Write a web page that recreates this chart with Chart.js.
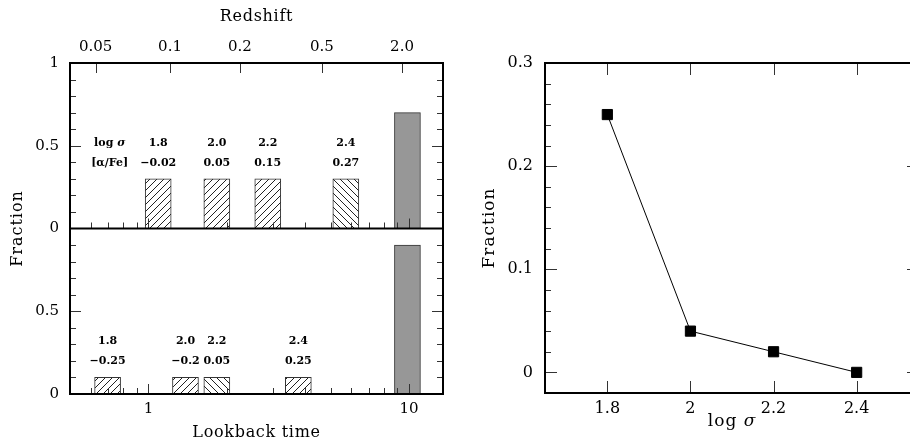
<!DOCTYPE html>
<html>
<head>
<meta charset="utf-8">
<script src="https://cdn.jsdelivr.net/npm/chart.js@4.4.1/dist/chart.umd.min.js"></script>
<style>
  html, body { margin: 0; padding: 0; background: #fff; overflow: hidden; }
  #wrap { position: relative; width: 910px; height: 445px; overflow: hidden; }
  canvas { position: absolute; top: 0; }
  #left { left: 0; }
  #right { left: 460px; }
</style>
</head>
<body>
<div id="wrap">
  <canvas id="left" width="460" height="445"></canvas>
  <canvas id="right" width="470" height="445"></canvas>
</div>
<script>
// upper histogram (lookback time in Gyr)
const topTimes = [1.09, 1.83, 2.87, 5.72, 9.86];
const topFraction = [0.3, 0.3, 0.3, 0.3, 0.7];
const topSigma = ['1.8', '2.0', '2.2', '2.4'];
const topAlpha = ['\u22120.02', '0.05', '0.15', '0.27'];

// lower histogram
const botTimes = [0.697, 1.387, 1.83, 3.76, 9.86];
const botFraction = [0.1, 0.1, 0.1, 0.1, 0.9];
const botSigma = ['1.8', '2.0', '2.2', '2.4'];
const botAlpha = ['\u22120.25', '\u22120.2', '0.05', '0.25'];

// top axis: redshift at lookback time
const redshiftLabels = ['0.05', '0.1', '0.2', '0.5', '2.0'];
const redshiftTimes = [0.627, 1.21, 2.245, 4.63, 9.40];

// right panel
const logSigma = [1.8, 2.0, 2.2, 2.4];
const sigmaFraction = [0.25, 0.04, 0.02, 0.0];

const topFill = ['fwd', 'fwd', 'fwd', 'back', 'solid'];
const botFill = ['fwd', 'fwd', 'back', 'fwd', 'solid'];

const SERIF = '"DejaVu Serif", serif';

function makeHatch(ctx, dir) {
  const s = 7;
  const c = document.createElement('canvas');
  c.width = s; c.height = s;
  const g = c.getContext('2d');
  g.fillStyle = '#fff';
  g.fillRect(0, 0, s, s);
  g.strokeStyle = '#222';
  g.lineWidth = 1;
  g.beginPath();
  if (dir > 0) {
    g.moveTo(-1, s + 1); g.lineTo(s + 1, -1);
  } else {
    g.moveTo(-1, -1); g.lineTo(s + 1, s + 1);
  }
  g.stroke();
  return ctx.createPattern(c, 'repeat');
}

function fills(ctx, kinds) {
  const fwd = makeHatch(ctx, 1), back = makeHatch(ctx, -1);
  return kinds.map(k => k === 'fwd' ? fwd : k === 'back' ? back : '#979797');
}

function hline(ctx, x1, x2, y) {
  const py = Math.round(y) + 0.5;
  ctx.moveTo(x1, py); ctx.lineTo(x2, py);
}
function vline(ctx, x, y1, y2) {
  const px = Math.round(x) + 0.5;
  ctx.moveTo(px, y1); ctx.lineTo(px, y2);
}

function logSigmaText(ctx, cx, cy, font, italic) {
  const a = 'log ', b = '\u03c3';
  ctx.font = font;
  const wa = ctx.measureText(a).width;
  ctx.font = italic;
  const wb = ctx.measureText(b).width;
  const x0 = cx - (wa + wb) / 2;
  ctx.textAlign = 'left';
  ctx.font = font;
  ctx.fillText(a, x0, cy);
  ctx.font = italic;
  ctx.fillText(b, x0 + wa, cy);
}

const leftDecor = {
  id: 'leftDecor',
  afterDraw(chart) {
    const { ctx, chartArea: a } = chart;
    const x = chart.scales.x, yT = chart.scales.yTop, yB = chart.scales.yBot;
    const mid = yT.getPixelForValue(0);
    ctx.save();
    ctx.strokeStyle = '#333';
    ctx.lineWidth = 1;
    ctx.beginPath();
    [yT, yB].forEach(s => {
      for (let i = 1; i < 10; i++) {
        const py = s.getPixelForValue(i / 10);
        const len = i % 5 === 0 ? 11 : 6;
        hline(ctx, a.left, a.left + len, py);
        hline(ctx, a.right, a.right - len, py);
      }
    });
    const xt = [0.6, 0.7, 0.8, 0.9, 1, 2, 3, 4, 5, 6, 7, 8, 9, 10];
    xt.forEach(v => {
      const px = x.getPixelForValue(v);
      const len = (v === 1 || v === 10) ? 10 : 6;
      vline(ctx, px, a.bottom, a.bottom - len);
      vline(ctx, px, mid, mid - len);
    });
    redshiftTimes.forEach(v => {
      vline(ctx, x.getPixelForValue(v), a.top, a.top + 10);
    });
    ctx.stroke();

    ctx.strokeStyle = '#000';
    ctx.lineWidth = 2;
    ctx.strokeRect(a.left, a.top, a.right - a.left, a.bottom - a.top);
    ctx.beginPath();
    ctx.moveTo(a.left, mid); ctx.lineTo(a.right, mid);
    ctx.stroke();

    // axis text
    ctx.fillStyle = '#000';
    ctx.font = '15px ' + SERIF;
    ctx.textBaseline = 'middle';
    ctx.textAlign = 'right';
    [[yT, 1, '1'], [yT, 0.5, '0.5'], [yT, 0, '0'], [yB, 0.5, '0.5'], [yB, 0, '0']].forEach(([s, v, t]) => {
      ctx.fillText(t, a.left - 11, s.getPixelForValue(v));
    });
    ctx.textAlign = 'center';
    [[1, '1'], [10, '10']].forEach(([v, t]) => ctx.fillText(t, x.getPixelForValue(v), a.bottom + 15));
    redshiftTimes.forEach((v, i) => ctx.fillText(redshiftLabels[i], x.getPixelForValue(v), a.top - 16));

    ctx.font = '16px ' + SERIF;
    ctx.letterSpacing = '0.7px';
    const cx = (a.left + a.right) / 2;
    ctx.fillText('Lookback time', cx, 433);
    ctx.fillText('Redshift', cx, 17);
    ctx.save();
    ctx.letterSpacing = '1px';
    ctx.translate(18, (a.top + a.bottom) / 2);
    ctx.rotate(-Math.PI / 2);
    ctx.fillText('Fraction', 0, 0);
    ctx.restore();
    ctx.letterSpacing = '0px';

    // per-bin labels
    const bold = 'bold 11px ' + SERIF;
    ctx.font = bold;
    ctx.textAlign = 'center';
    topSigma.forEach((t, i) => ctx.fillText(t, x.getPixelForValue(topTimes[i]), yT.getPixelForValue(0.515)));
    topAlpha.forEach((t, i) => ctx.fillText(t, x.getPixelForValue(topTimes[i]), yT.getPixelForValue(0.394)));
    botSigma.forEach((t, i) => ctx.fillText(t, x.getPixelForValue(botTimes[i]), yB.getPixelForValue(0.32)));
    botAlpha.forEach((t, i) => ctx.fillText(t, x.getPixelForValue(botTimes[i]), yB.getPixelForValue(0.2)));
    const hx = x.getPixelForValue(0.71);
    logSigmaText(ctx, hx, yT.getPixelForValue(0.515), bold, 'italic bold 11px ' + SERIF);
    ctx.font = bold;
    ctx.textAlign = 'center';
    ctx.fillText('[\u03b1/Fe]', hx, yT.getPixelForValue(0.394));
    ctx.restore();
  }
};

const leftCtx = document.getElementById('left').getContext('2d');

new Chart(leftCtx, {
  type: 'bar',
  data: {
    datasets: [{
      data: topTimes.map((t, i) => ({ x: t, y: topFraction[i] })),
      yAxisID: 'yTop',
      backgroundColor: fills(leftCtx, topFill),
      borderColor: '#333',
      borderWidth: 1,
      barThickness: 26,
      grouped: false
    }, {
      data: botTimes.map((t, i) => ({ x: t, y: botFraction[i] })),
      yAxisID: 'yBot',
      backgroundColor: fills(leftCtx, botFill),
      borderColor: '#333',
      borderWidth: 1,
      barThickness: 26,
      grouped: false
    }]
  },
  options: {
    responsive: false,
    animation: false,
    layout: { padding: { left: 70, top: 63, right: 17, bottom: 51 } },
    plugins: { legend: { display: false }, tooltip: { enabled: false } },
    scales: {
      x: { type: 'logarithmic', min: 0.5, max: 13.5, display: false },
      yTop: { type: 'linear', position: 'left', stack: 'left', stackWeight: 1, weight: 2, min: 0, max: 1, display: false },
      yBot: { type: 'linear', position: 'left', stack: 'left', stackWeight: 1, weight: 1, min: 0, max: 1, display: false }
    }
  },
  plugins: [leftDecor]
});

const rightDecor = {
  id: 'rightDecor',
  afterDraw(chart) {
    const { ctx, chartArea: a } = chart;
    const x = chart.scales.x, y = chart.scales.y;
    ctx.save();
    ctx.strokeStyle = '#333';
    ctx.lineWidth = 1;
    ctx.beginPath();
    for (let i = 0; i < 15; i++) {
      const py = y.getPixelForValue(i * 0.02);
      const len = i % 5 === 0 ? 12 : 6;
      hline(ctx, a.left, a.left + len, py);
      hline(ctx, a.right, a.right - len, py);
    }
    logSigma.forEach(v => {
      const px = x.getPixelForValue(v);
      vline(ctx, px, a.top, a.top + 12);
      vline(ctx, px, a.bottom, a.bottom - 12);
    });
    ctx.stroke();
    ctx.strokeStyle = '#000';
    ctx.lineWidth = 2;
    ctx.strokeRect(a.left, a.top, a.right - a.left, a.bottom - a.top);

    ctx.fillStyle = '#000';
    ctx.font = '16px ' + SERIF;
    ctx.textBaseline = 'middle';
    ctx.textAlign = 'right';
    [[0, '0'], [0.1, '0.1'], [0.2, '0.2'], [0.3, '0.3']].forEach(([v, t]) => {
      ctx.fillText(t, a.left - 12, y.getPixelForValue(v));
    });
    ctx.textAlign = 'center';
    [[1.8, '1.8'], [2, '2'], [2.2, '2.2'], [2.4, '2.4']].forEach(([v, t]) => {
      ctx.fillText(t, x.getPixelForValue(v), a.bottom + 16);
    });
    ctx.letterSpacing = '1px';
    logSigmaText(ctx, x.getPixelForValue(2.1), 422, '17px ' + SERIF, 'italic 17px ' + SERIF);
    ctx.textAlign = 'center';
    ctx.font = '17px ' + SERIF;
    ctx.save();
    ctx.translate(30, (a.top + a.bottom) / 2);
    ctx.rotate(-Math.PI / 2);
    ctx.fillText('Fraction', 0, 0);
    ctx.restore();
    ctx.letterSpacing = '0px';
    ctx.restore();
  }
};

new Chart(document.getElementById('right'), {
  type: 'line',
  data: {
    datasets: [{
      data: logSigma.map((s, i) => ({ x: s, y: sigmaFraction[i] })),
      borderColor: '#000',
      borderWidth: 1,
      backgroundColor: '#000',
      pointStyle: 'rect',
      pointRadius: 7.2,
      pointBorderWidth: 1,
      tension: 0,
      fill: false
    }]
  },
  options: {
    responsive: false,
    animation: false,
    layout: { padding: { left: 85, top: 63, right: 11, bottom: 52 } },
    plugins: { legend: { display: false }, tooltip: { enabled: false } },
    scales: {
      x: { type: 'linear', min: 1.65, max: 2.55, display: false },
      y: { type: 'linear', min: -0.02, max: 0.3, display: false }
    }
  },
  plugins: [rightDecor]
});
</script>
</body>
</html>
